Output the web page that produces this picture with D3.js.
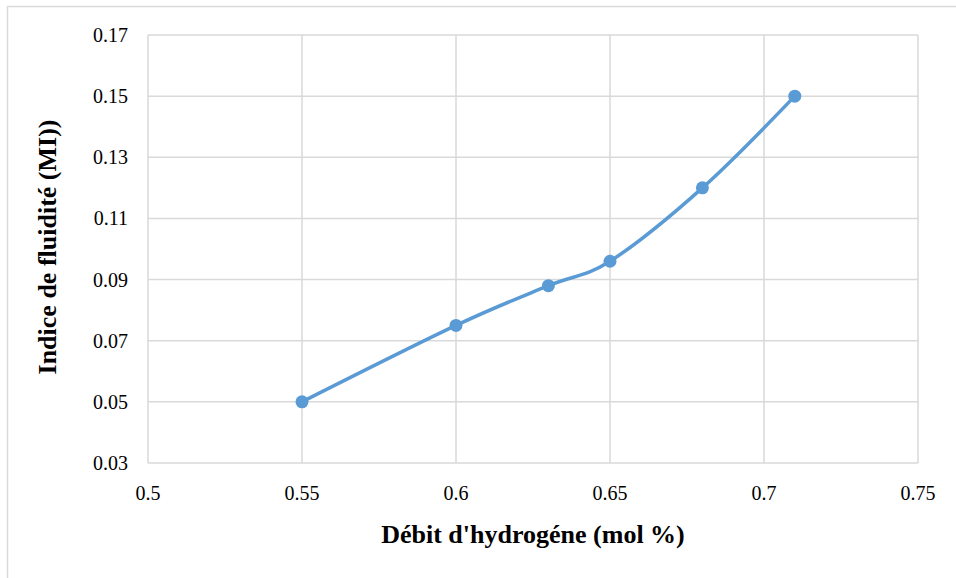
<!DOCTYPE html>
<html><head><meta charset="utf-8">
<script src="https://cdn.jsdelivr.net/npm/d3@7"></script>
</head><body style="margin:0">
<svg id="c" width="956" height="578"></svg>
<script>
const xValues = [0.55, 0.6, 0.63, 0.65, 0.68, 0.71];
const yValues = [0.05, 0.075, 0.088, 0.096, 0.12, 0.15];
const xTicks = [0.5, 0.55, 0.6, 0.65, 0.7, 0.75];
const yTicks = [0.03, 0.05, 0.07, 0.09, 0.11, 0.13, 0.15, 0.17];
const xTitle = "Débit d'hydrogéne (mol %)";
const yTitle = "Indice de fluidité (MI))";

const svg = d3.select("#c");
const ff = '"Tinos"';
svg.append("rect").attr("x",7.5).attr("y",6.5).attr("width",960).attr("height",600)
  .attr("fill","none").attr("stroke","#d9d9d9").attr("stroke-width",1.5);

const L=148, R=918, T=35, B=463;
const x = d3.scaleLinear().domain([0.5,0.75]).range([L,R]);
const y = d3.scaleLinear().domain([0.03,0.17]).range([B,T]);

const g = svg.append("g");
g.selectAll(".hg").data(yTicks).join("line")
  .attr("x1",L).attr("x2",R).attr("y1",d=>y(d)).attr("y2",d=>y(d))
  .attr("stroke","#d9d9d9").attr("stroke-width",1.5);
g.selectAll(".vg").data(xTicks).join("line")
  .attr("x1",d=>x(d)).attr("x2",d=>x(d)).attr("y1",T).attr("y2",B)
  .attr("stroke","#d9d9d9").attr("stroke-width",1.5);

svg.selectAll(".xt").data(xTicks).join("text")
  .attr("x",d=>x(d)).attr("y",B+37).attr("text-anchor","middle")
  .style("font-family",ff).style("font-size","20px").text(d=>String(d));
svg.selectAll(".yt").data(yTicks).join("text")
  .attr("x",L-20).attr("y",d=>y(d)+7).attr("text-anchor","end")
  .style("font-family",ff).style("font-size","20px").text(d=>String(+d.toFixed(2)));

const line = d3.line().x(d=>x(d[0])).y(d=>y(d[1])).curve(d3.curveCatmullRom.alpha(0));
const pts = xValues.map((v,i)=>[v,yValues[i]]);
svg.append("path").datum(pts).attr("d",line).attr("fill","none")
  .attr("stroke","#5b9bd5").attr("stroke-width",3.5).attr("stroke-linecap","round");
svg.selectAll(".pt").data(pts).join("circle")
  .attr("cx",d=>x(d[0])).attr("cy",d=>y(d[1])).attr("r",6.5).attr("fill","#5b9bd5");

svg.append("text").attr("x",533).attr("y",543).attr("text-anchor","middle")
  .style("font-family",ff).style("font-size","26px").style("font-weight","bold").text(xTitle);
svg.append("text").attr("transform","translate(56,247) rotate(-90)").attr("text-anchor","middle")
  .style("font-family",ff).style("font-size","26px").style("font-weight","bold").text(yTitle);
</script>
</body></html>
